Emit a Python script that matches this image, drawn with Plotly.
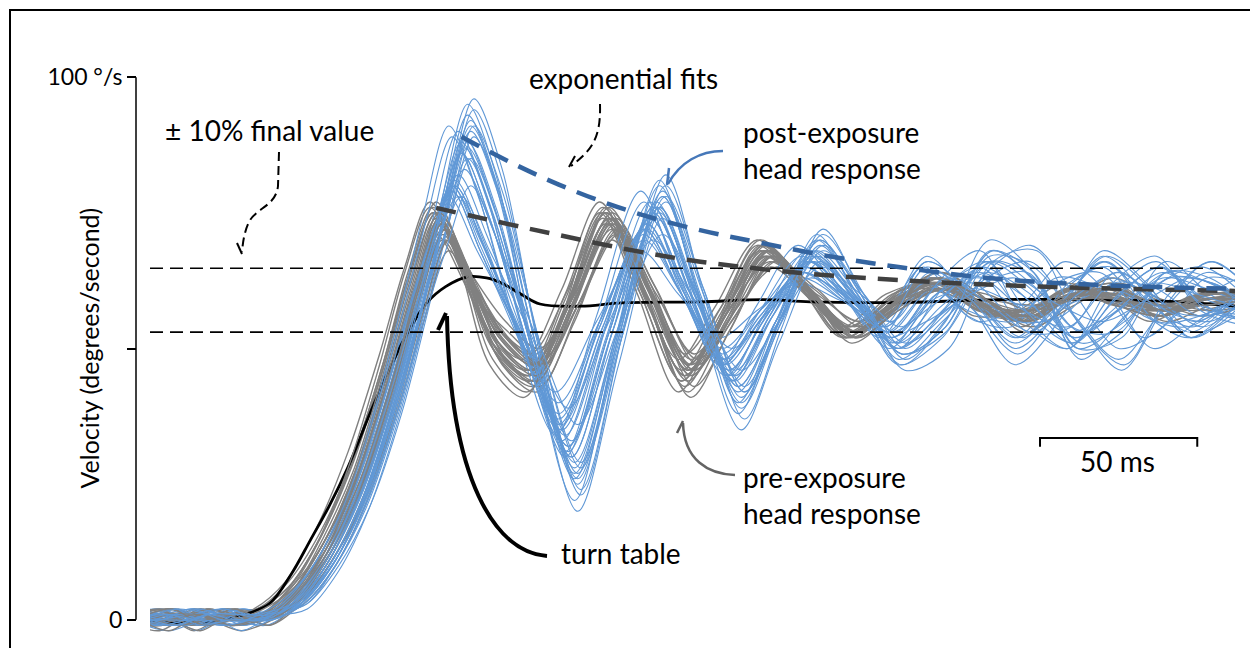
import plotly.graph_objects as go

# ---------------- data (ms, degrees/second) ----------------
GRAY_T = [-6, 6, 16, 26, 36, 46, 56, 66, 76, 84, 92, 101, 111, 122, 134, 146, 158, 171, 183, 196,
          209, 223, 237, 251, 265, 279, 293, 307, 321, 335, 350]
GRAY_SHIFT = [0, -2, 1, 2, -1, 0, -3, 2, 1, -1, 3, -2, 0, 1, -1, -2, 0, 2, -1, 1, 3, -3, 0, 1, -1, 2, 0, 1]
GRAY_TRACES = [
    [1, -1, 2, 0, 1, 4, 13, 26, 44, 61, 74, 64, 52, 47, 60, 74, 60, 46, 57, 67, 60, 53, 59, 63, 58, 55, 60, 62, 57, 58, 60],
    [-1, 1, -2, 1, 2, 6, 15, 28, 46, 63, 75, 65, 50, 45, 59, 75, 60, 44, 56, 68, 61, 52, 58, 62, 59, 54, 59, 61, 58, 57, 59],
    [0, 2, 0, -1, 1, 5, 12, 24, 41, 58, 71, 62, 53, 49, 60, 72, 61, 48, 57, 66, 60, 54, 60, 61, 57, 57, 61, 59, 56, 59, 60],
    [2, 0, -1, 1, -1, 3, 11, 23, 40, 56, 70, 60, 51, 46, 58, 71, 59, 46, 55, 66, 61, 55, 61, 62, 56, 56, 62, 60, 55, 58, 61],
    [-2, 0, 1, 2, 1, 6, 16, 30, 48, 64, 77, 66, 49, 44, 58, 76, 61, 43, 55, 69, 62, 52, 57, 64, 60, 53, 58, 63, 59, 56, 58],
    [1, 2, 0, -1, 0, 4, 14, 27, 45, 61, 73, 63, 48, 43, 57, 73, 59, 42, 54, 68, 61, 51, 57, 63, 59, 55, 60, 61, 57, 58, 59],
    [0, -2, 1, 0, 2, 7, 17, 31, 49, 65, 77, 67, 53, 48, 61, 77, 63, 48, 58, 70, 62, 54, 60, 62, 56, 57, 62, 60, 55, 59, 61],
    [-1, 0, 2, 1, 1, 5, 13, 25, 42, 59, 72, 63, 55, 50, 61, 74, 62, 49, 58, 67, 60, 53, 58, 61, 59, 58, 60, 58, 57, 60, 59],
    [1, -1, 0, 2, 0, 4, 12, 24, 42, 58, 70, 60, 47, 42, 55, 70, 57, 41, 53, 65, 59, 52, 60, 64, 59, 54, 58, 62, 59, 57, 58],
    [0, 1, -1, 0, 1, 6, 14, 27, 46, 62, 75, 65, 50, 45, 59, 75, 61, 45, 56, 69, 61, 53, 57, 61, 58, 57, 61, 60, 56, 58, 60],
    [2, 1, 0, -2, 0, 3, 10, 22, 39, 55, 68, 59, 53, 48, 59, 71, 60, 48, 57, 65, 60, 55, 61, 60, 56, 58, 61, 58, 57, 61, 59],
    [-1, -1, 1, 2, 2, 6, 15, 29, 47, 64, 76, 66, 51, 46, 60, 76, 62, 46, 57, 70, 62, 52, 58, 63, 58, 55, 59, 61, 58, 58, 58],
    [0, 0, -2, 1, 0, 5, 14, 26, 44, 60, 73, 63, 49, 44, 58, 73, 59, 44, 55, 68, 61, 53, 59, 62, 57, 56, 61, 59, 56, 59, 60],
    [1, 2, 0, 0, 1, 5, 13, 25, 43, 60, 74, 64, 53, 48, 61, 75, 62, 47, 57, 68, 60, 52, 57, 61, 60, 57, 59, 60, 58, 60, 59],
    [-2, 1, 1, -1, 0, 4, 12, 25, 43, 59, 71, 62, 50, 45, 58, 73, 60, 45, 56, 67, 61, 54, 60, 62, 58, 55, 59, 62, 57, 58, 59],
    [0, -1, 2, 1, 2, 7, 16, 29, 47, 63, 75, 65, 48, 42, 57, 74, 60, 44, 55, 69, 62, 53, 58, 62, 57, 56, 61, 59, 57, 60, 60],
    [1, 0, -1, 0, 1, 5, 14, 27, 45, 61, 73, 63, 51, 46, 59, 74, 61, 46, 56, 67, 61, 53, 59, 63, 59, 57, 60, 58, 56, 59, 58],
    [-1, 2, 0, 1, -1, 4, 13, 26, 44, 60, 72, 62, 48, 43, 57, 72, 59, 43, 54, 67, 60, 52, 58, 61, 58, 56, 60, 60, 58, 60, 59],
    [0, 1, 1, -1, 0, 5, 15, 28, 47, 63, 75, 65, 54, 49, 61, 75, 63, 49, 58, 69, 62, 54, 59, 62, 57, 56, 61, 58, 57, 60, 60],
    [2, -1, 0, 1, 1, 6, 14, 26, 44, 60, 73, 63, 52, 47, 59, 74, 61, 46, 57, 68, 61, 53, 58, 62, 58, 57, 59, 59, 56, 59, 59],
    [-1, 0, 2, 0, 1, 4, 12, 23, 40, 57, 70, 61, 52, 47, 59, 72, 61, 47, 56, 66, 61, 54, 60, 62, 57, 56, 60, 59, 57, 61, 58],
    [0, 2, -1, 1, 0, 5, 14, 28, 47, 64, 76, 66, 47, 41, 56, 75, 60, 42, 54, 69, 62, 52, 57, 63, 59, 55, 59, 60, 58, 59, 60],
    [1, -2, 1, 0, 2, 6, 15, 27, 45, 61, 74, 64, 51, 46, 59, 74, 62, 47, 57, 68, 61, 53, 58, 61, 58, 57, 61, 58, 56, 60, 59],
    [-1, 1, 0, 2, 0, 4, 13, 25, 43, 59, 72, 62, 50, 45, 58, 73, 60, 45, 56, 67, 61, 53, 59, 62, 58, 56, 60, 59, 57, 59, 59],
    [0, 1, 1, 0, 1, 5, 14, 27, 45, 61, 74, 64, 51, 46, 59, 75, 61, 45, 56, 68, 61, 53, 58, 62, 58, 56, 60, 60, 57, 59, 59],
    [1, -1, 0, 1, 0, 4, 12, 25, 43, 60, 72, 62, 52, 47, 60, 73, 60, 46, 56, 67, 60, 53, 59, 61, 57, 57, 60, 59, 57, 60, 60],
    [-1, 0, 1, -1, 1, 6, 15, 28, 46, 62, 75, 65, 52, 47, 60, 76, 62, 47, 57, 69, 61, 53, 58, 63, 59, 56, 59, 61, 58, 58, 59],
    [0, 2, -1, 0, 0, 5, 13, 26, 44, 61, 73, 63, 49, 44, 58, 74, 60, 45, 55, 68, 61, 52, 57, 62, 59, 55, 60, 61, 57, 59, 60],
]

BLUE_T = [-6, 6, 16, 26, 36, 46, 56, 66, 76, 84, 91, 99, 108, 120, 133, 146, 160, 172, 185, 197,
          210, 223, 236, 250, 264, 278, 292, 306, 320, 334, 350]
BLUE_SHIFT = [0, 2, -2, 4, -3, 2, -1, 4, -3, 1, 3, -2, 0, -4, 3, 1, 4, -3, 2, -1, 3, -4, 0, 2, 4, -2, 1, -3,
              3, 0, -1, 2, -3, 3]
BLUE_TRACES = [
    [1, -1, 2, 0, 1, 3, 10, 22, 39, 56, 73, 88, 76, 51, 32, 53, 75, 60, 44, 56, 67, 60, 52, 62, 68, 55, 50, 60, 66, 58, 56],
    [-1, 1, 0, 2, 1, 4, 11, 23, 41, 59, 76, 93, 80, 50, 26, 52, 80, 61, 40, 55, 70, 60, 48, 55, 63, 66, 56, 48, 57, 64, 60],
    [0, 2, -1, 1, 0, 2, 9, 20, 37, 54, 68, 80, 69, 53, 36, 54, 72, 60, 48, 56, 64, 59, 54, 64, 57, 49, 58, 67, 61, 53, 57],
    [2, 0, 1, -1, 1, 3, 10, 21, 38, 56, 73, 89, 77, 51, 29, 53, 78, 61, 42, 55, 69, 60, 50, 58, 66, 61, 51, 55, 63, 62, 56],
    [-2, 1, 0, 2, 0, 3, 9, 21, 37, 53, 68, 80, 70, 54, 40, 55, 70, 60, 50, 57, 63, 59, 55, 66, 60, 52, 60, 65, 56, 52, 60],
    [1, -1, 2, 0, 1, 4, 12, 24, 42, 60, 78, 95, 82, 48, 22, 51, 81, 60, 38, 54, 71, 59, 47, 52, 64, 69, 60, 50, 54, 63, 61],
    [0, 1, -2, 1, 0, 3, 10, 22, 40, 57, 70, 82, 71, 52, 34, 54, 74, 60, 46, 56, 66, 60, 53, 61, 55, 58, 66, 60, 50, 55, 62],
    [-1, 0, 1, 2, 1, 2, 9, 21, 39, 57, 74, 91, 79, 51, 28, 52, 77, 60, 43, 56, 68, 60, 51, 57, 68, 62, 53, 58, 64, 57, 55],
    [1, 2, 0, -1, 0, 3, 10, 22, 38, 54, 67, 79, 68, 53, 38, 55, 71, 60, 49, 57, 65, 61, 56, 67, 58, 47, 55, 68, 62, 52, 58],
    [0, -1, 1, 0, -1, 3, 11, 23, 40, 57, 73, 87, 75, 51, 30, 53, 76, 61, 45, 56, 67, 59, 50, 56, 62, 64, 54, 53, 62, 65, 58],
    [2, 0, -1, 1, 1, 4, 11, 23, 41, 59, 76, 92, 79, 50, 25, 52, 79, 60, 41, 55, 70, 60, 49, 54, 67, 65, 55, 46, 58, 66, 59],
    [-1, 1, 2, 0, 0, 2, 9, 20, 38, 55, 69, 81, 70, 52, 35, 54, 73, 60, 47, 56, 65, 60, 54, 63, 59, 52, 59, 66, 58, 54, 62],
    [0, -2, 0, 1, 1, 3, 10, 22, 39, 56, 72, 86, 74, 51, 31, 53, 76, 60, 44, 56, 68, 60, 51, 60, 65, 56, 50, 62, 67, 57, 54],
    [1, 0, 1, -1, 0, 3, 10, 21, 37, 52, 66, 78, 68, 55, 42, 55, 68, 60, 52, 57, 62, 59, 56, 65, 56, 54, 63, 61, 52, 58, 63],
    [0, 1, -1, 2, 1, 4, 11, 24, 41, 58, 75, 90, 78, 50, 27, 52, 78, 59, 39, 54, 69, 59, 49, 53, 66, 63, 50, 55, 66, 60, 55],
    [-2, 0, 1, 0, 0, 3, 10, 21, 39, 56, 70, 83, 72, 52, 33, 53, 74, 60, 46, 56, 66, 60, 53, 62, 63, 53, 54, 64, 59, 54, 61],
    [1, 1, 0, -1, 1, 3, 11, 23, 41, 59, 77, 94, 81, 50, 24, 52, 80, 61, 42, 56, 71, 60, 48, 56, 68, 62, 48, 56, 63, 62, 57],
    [0, -1, 2, 1, 0, 2, 9, 21, 38, 54, 68, 80, 69, 53, 37, 54, 72, 60, 48, 56, 64, 60, 55, 66, 60, 50, 57, 67, 60, 52, 59],
    [-1, 2, 0, 0, 1, 3, 10, 22, 40, 57, 73, 88, 76, 50, 29, 52, 75, 59, 43, 55, 67, 59, 51, 58, 64, 60, 52, 58, 64, 59, 56],
    [1, 0, -1, 2, 0, 4, 11, 22, 39, 57, 74, 90, 78, 52, 31, 54, 77, 61, 45, 57, 68, 59, 50, 59, 61, 58, 58, 61, 58, 56, 60],
    [0, 1, 1, -2, 1, 3, 10, 22, 39, 56, 71, 85, 73, 46, 20, 47, 74, 55, 35, 51, 66, 57, 47, 55, 70, 64, 49, 53, 64, 63, 56],
    [2, -1, 0, 1, 0, 3, 10, 22, 40, 58, 75, 91, 79, 54, 34, 56, 79, 63, 47, 58, 69, 61, 52, 62, 57, 55, 62, 64, 56, 54, 60],
    [-1, 0, 2, 0, 1, 2, 9, 20, 37, 53, 66, 78, 68, 54, 39, 55, 70, 60, 50, 57, 63, 59, 55, 64, 58, 52, 62, 65, 55, 56, 61],
    [0, 2, -1, 1, 0, 3, 10, 22, 39, 56, 72, 87, 75, 50, 28, 52, 76, 59, 42, 55, 67, 59, 50, 57, 66, 61, 52, 57, 63, 61, 57],
    [1, -1, 0, 0, 1, 4, 12, 24, 42, 61, 79, 96, 83, 49, 23, 52, 82, 60, 37, 54, 72, 59, 46, 50, 66, 68, 54, 47, 60, 66, 58],
    [0, 0, 1, 2, -1, 3, 10, 21, 38, 55, 68, 80, 69, 51, 33, 53, 73, 59, 45, 55, 65, 59, 53, 61, 62, 55, 56, 63, 60, 55, 60],
    [-2, 1, 0, -1, 1, 3, 11, 23, 40, 57, 73, 89, 77, 51, 30, 53, 77, 60, 44, 56, 68, 60, 51, 59, 65, 59, 51, 59, 65, 58, 55],
    [1, 0, 2, 0, 0, 2, 9, 21, 38, 55, 68, 79, 68, 52, 36, 54, 72, 60, 47, 56, 64, 59, 54, 65, 59, 51, 58, 66, 59, 53, 61],
    [0, -1, 1, 1, 1, 4, 11, 23, 41, 58, 75, 91, 79, 50, 26, 52, 78, 59, 40, 55, 70, 60, 49, 54, 68, 64, 50, 52, 64, 62, 56],
    [-1, 1, -1, 0, 0, 3, 10, 22, 39, 56, 72, 86, 74, 51, 32, 53, 75, 60, 45, 56, 66, 59, 52, 60, 63, 57, 54, 62, 61, 56, 59],
    [0, 1, 0, -1, 1, 3, 10, 22, 39, 55, 68, 78, 68, 50, 30, 52, 74, 60, 46, 56, 66, 60, 53, 58, 64, 60, 53, 56, 62, 60, 57],
    [1, -1, 1, 1, 0, 3, 11, 23, 40, 57, 72, 85, 73, 49, 27, 51, 76, 60, 43, 55, 68, 60, 50, 61, 66, 56, 51, 60, 65, 57, 55],
    [-1, 0, 0, 2, 1, 4, 11, 23, 41, 58, 74, 89, 77, 53, 35, 55, 77, 62, 47, 57, 67, 60, 52, 55, 60, 63, 58, 55, 59, 63, 59],
    [0, 2, 1, 0, 0, 3, 10, 21, 38, 55, 68, 80, 69, 52, 36, 54, 71, 59, 46, 55, 65, 60, 54, 63, 58, 53, 60, 64, 57, 55, 61],
]

TABLE_T = [-6, 15, 30, 38, 45, 51, 57, 63, 70, 75, 82, 88, 94, 101, 107, 112, 118, 124, 137, 150,
           175, 195, 210, 240, 270, 300, 330, 350]
TABLE_V = [0, -0.5, 1, 3, 8.5, 14.7, 21, 28.2, 38.1, 44.8, 53, 58.4, 61.4, 63.2, 63.0, 62, 60, 58.2,
           57.8, 58.4, 58.6, 59, 58.6, 58.5, 59, 59, 58.5, 57.5]

POST_FIT_T = [99, 115, 130, 146, 162, 178, 194, 216, 238, 270, 302, 345]
POST_FIT_V = [89, 84.2, 80.2, 76.6, 73.7, 71.4, 69.5, 67.0, 65.0, 62.8, 61.7, 61.0]
PRE_FIT_T = [91, 111, 130, 156, 175, 207, 238, 270, 302, 345]
PRE_FIT_V = [75.9, 73.3, 70.9, 67.8, 66.0, 63.9, 62.6, 61.7, 61.1, 60.6]

FINAL_VALUE = 58.9
BAND = 0.10
X_RANGE = [0, 345]
Y_TICKS = [0, 50, 100]
Y_TICK_TEXT = ["0", "", "100 °/s"]
SCALE_BAR_START = 283
SCALE_BAR_MS = 50

# ---------------- layout geometry (pixels) ----------------
FW, FH = 1250, 648
ML, MR, MT, MB = 136, 15, 50, 1
PW, PH = FW - ML - MR, FH - MT - MB
DATA_LEFT_PX = 150
FONT = "Lato"
FS_ANN = 28
FS_TITLE = 25
FS_TICK = 23


def pxx(x):
    return (x - ML) / PW


def pxy(y):
    return (FH - MB - y) / PH


def ppath(points):
    s = ""
    for c, pts in points:
        s += c + " " + " ".join(f"{pxx(a):.5f},{pxy(b):.5f}" for a, b in pts) + " "
    return s.strip()


fig = go.Figure()

GRAY = "rgb(128,128,128)"
BLUE = "rgb(96,152,214)"


def add_blue(i):
    fig.add_trace(go.Scatter(x=[t + BLUE_SHIFT[i] for t in BLUE_T], y=BLUE_TRACES[i], mode="lines",
                             line=dict(color=BLUE, width=1.1, shape="spline", smoothing=0.9),
                             hoverinfo="skip", showlegend=False))


def add_gray(i):
    fig.add_trace(go.Scatter(x=[t + GRAY_SHIFT[i] for t in GRAY_T], y=GRAY_TRACES[i], mode="lines",
                             line=dict(color=GRAY, width=1.4, shape="spline", smoothing=0.9),
                             hoverinfo="skip", showlegend=False))


n = max(len(BLUE_TRACES), len(GRAY_TRACES))
for i in range(n):
    if i < len(BLUE_TRACES):
        add_blue(i)
    if i < len(GRAY_TRACES):
        add_gray(i)
    if i == n // 2:
        fig.add_trace(go.Scatter(x=TABLE_T, y=TABLE_V, mode="lines",
                                 line=dict(color="black", width=2.8, shape="spline"),
                                 hoverinfo="skip", showlegend=False))

# +-10% final value lines
for lvl in (FINAL_VALUE * (1 + BAND), FINAL_VALUE * (1 - BAND)):
    fig.add_trace(go.Scatter(x=X_RANGE, y=[lvl, lvl], mode="lines",
                             line=dict(color="black", width=1.6, dash="13px,7px"),
                             hoverinfo="skip", showlegend=False))

fig.add_trace(go.Scatter(x=PRE_FIT_T, y=PRE_FIT_V, mode="lines",
                         line=dict(color="rgb(64,64,64)", width=4.5, dash="20px,12px", shape="spline"),
                         hoverinfo="skip", showlegend=False))
fig.add_trace(go.Scatter(x=POST_FIT_T, y=POST_FIT_V, mode="lines",
                         line=dict(color="rgb(52,100,160)", width=4.5, dash="20px,12px", shape="spline"),
                         hoverinfo="skip", showlegend=False))

shapes = []
# figure frame (right and bottom edges lie outside the picture)
shapes.append(dict(type="rect", xref="paper", yref="paper", x0=pxx(10), x1=pxx(1262), y0=pxy(670),
                   y1=pxy(10), line=dict(color="black", width=2), layer="above"))
# y-axis line from 0 to 100
shapes.append(dict(type="line", xref="paper", yref="y", x0=0, x1=0, y0=Y_TICKS[0], y1=Y_TICKS[-1],
                   line=dict(color="black", width=1.5)))
# scale bar
shapes.append(dict(type="path", xref="x", yref="y",
                   path=f"M {SCALE_BAR_START},31.9 L {SCALE_BAR_START},33.5 L {SCALE_BAR_START + SCALE_BAR_MS},33.5 "
                        f"L {SCALE_BAR_START + SCALE_BAR_MS},31.9",
                   line=dict(color="black", width=2)))


def arrow(curve, head, color, width, dash="solid"):
    shapes.append(dict(type="path", xref="paper", yref="paper", path=ppath(curve),
                       line=dict(color=color, width=width, dash=dash)))
    shapes.append(dict(type="path", xref="paper", yref="paper", path=ppath(head),
                       line=dict(color=color, width=width)))


# exponential fits arrow
arrow([("M", [(600, 104)]), ("C", [(601, 138), (592, 150), (571, 166)])],
      [("M", [(575, 156)]), ("L", [(569, 167), (581, 167)])], "black", 2, "9px,5px")
# +-10% arrow
arrow([("M", [(279, 152)]), ("L", [(278, 186)]), ("C", [(276, 206), (256, 208), (249, 222)]),
       ("C", [(245, 230), (243, 240), (242, 252)])],
      [("M", [(237, 243)]), ("L", [(242, 254), (249, 243)])], "black", 2, "9px,5px")
# post-exposure arrow
arrow([("M", [(723, 151)]), ("C", [(700, 151), (680, 162), (668, 184)])],
      [("M", [(669, 168)]), ("L", [(667, 185), (682, 178)])], "rgb(70,120,185)", 2.5)
# pre-exposure arrow
arrow([("M", [(735, 475)]), ("C", [(708, 474), (684, 460), (683, 423)])],
      [("M", [(677, 433)]), ("L", [(683, 421), (693, 432)])], "rgb(100,100,100)", 2.5)
# turn table arrow
arrow([("M", [(547, 556)]), ("C", [(495, 552), (450, 480), (447, 316)])],
      [("M", [(438, 330)]), ("L", [(446, 313), (456, 329)])], "black", 4)

annos = []


def label(text, x, y, xanchor="center", align="center"):
    annos.append(dict(text=text, x=pxx(x), y=pxy(y), xref="paper", yref="paper", showarrow=False,
                      xanchor=xanchor, yanchor="middle", align=align,
                      font=dict(family=FONT, size=FS_ANN, color="black")))


label("exponential fits", 623, 78)
label("± 10% final value", 269, 130)
label("post-exposure<br>head response", 741, 150, "left", "left")
label("pre-exposure<br>head response", 741, 495, "left", "left")
label("turn table", 559, 553, "left", "left")
label("50 ms", 1117, 461)
annos.append(dict(text="Velocity (degrees/second)", x=pxx(88), xref="paper", y=50, yref="y",
                  showarrow=False, textangle=-90, xanchor="center", yanchor="middle",
                  font=dict(family=FONT, size=FS_TITLE, color="black")))

fig.update_layout(
    width=FW, height=FH,
    margin=dict(l=ML, r=MR, t=MT, b=MB, pad=0),
    paper_bgcolor="white", plot_bgcolor="white",
    showlegend=False,
    xaxis=dict(range=X_RANGE, domain=[(DATA_LEFT_PX - ML) / PW, 1], visible=False, fixedrange=True),
    yaxis=dict(range=[-5, 105], anchor="free", position=0, showline=False, showgrid=False, zeroline=False,
               tickmode="array", tickvals=Y_TICKS, ticktext=Y_TICK_TEXT, ticks="outside", ticklen=9,
               tickwidth=1.5, tickcolor="black", tickfont=dict(family=FONT, size=FS_TICK, color="black"),
               fixedrange=True),
    shapes=shapes,
    annotations=annos,
)

fig.write_html("out.html")
